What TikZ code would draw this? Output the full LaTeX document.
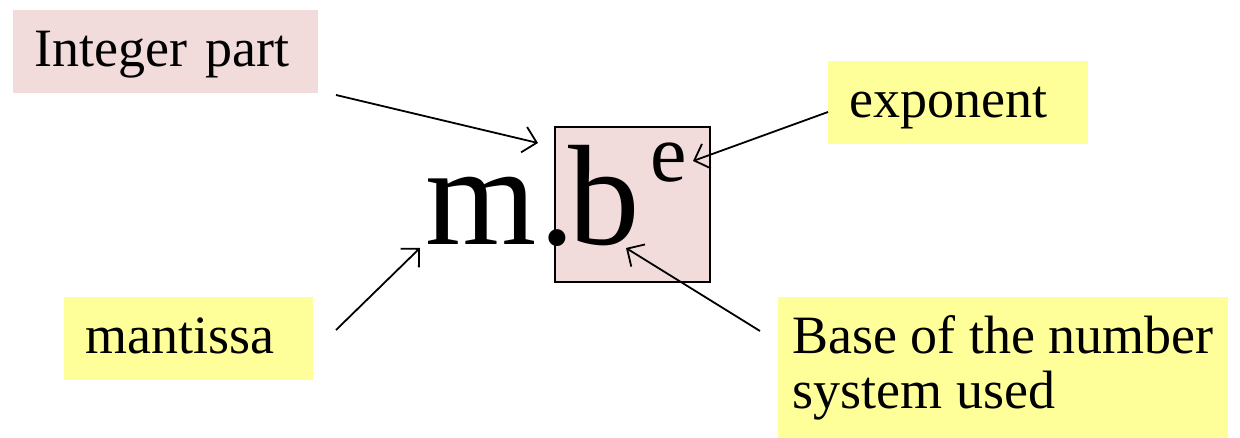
\documentclass[tikz,border=0pt]{standalone}
\usepackage{fontspec}
\setmainfont{Liberation Serif}
\usepackage{xcolor}
\usetikzlibrary{arrows.meta, positioning}

\definecolor{rosefill}{HTML}{F2DCDB}
\definecolor{lemonfill}{HTML}{FFFF99}

\begin{document}
\begin{tikzpicture}[
    x=1pt, y=-1pt,
    label/.style={rectangle, fill=#1, inner xsep=21pt, inner ysep=0pt, text height=57pt, text depth=26pt, align=left, anchor=base west, font=\fontsize{54}{55}\selectfont},
    label/.default={lemonfill},
    big/.style={inner sep=0pt, font=\fontsize{143}{143}\selectfont},
    arr/.style={line width=1.8pt, -{Straight Barb[length=13pt, width=26pt, line width=1.8pt]}},
]
    \useasboundingbox (0,0) rectangle (1240,438);

    % Boxed base
    \node[draw, line width=2.5pt, fill=rosefill, minimum size=155pt, inner sep=0pt] (basebox) at (632.5,204.5) {};

    % The number m.b^e
    \node[big, anchor=base west] (m) at (425,245) {m};
    \node[big, anchor=base] (dot) at (557,245) {.};
    \node[big, anchor=base west] (b) at (568,245) {b};
    \node[inner sep=0pt, anchor=base west, font=\fontsize{82}{82}\selectfont] (e) at (650,182) {e};

    % Labels
    \node[label=rosefill, text width=263pt] (intg) at (13,67) {Integer part};
    \node[label, text width=218pt] (expo) at (828,118) {exponent};
    \node[label, text width=207pt] (mant) at (64,354) {mantissa};
    \node[label, anchor=north west, minimum width=450pt, minimum height=141pt, inner xsep=12pt, text height=, text depth=] (base) at (778,297) {Base of the number\\system used};

    % Arrow ends
    \coordinate (intgS) at (336,95);
    \coordinate (intgT) at (538,143);
    \coordinate (expoS) at (828,112);
    \coordinate (expoT) at (693,161);
    \coordinate (mantS) at (336,330);
    \coordinate (mantT) at (420,248);
    \coordinate (baseS) at (760,331);
    \coordinate (baseT) at (626,248);

    \draw[arr] (intgS) -- (intgT);
    \draw[arr] (expoS) -- (expoT);
    \draw[arr] (mantS) -- (mantT);
    \draw[arr] (baseS) -- (baseT);
\end{tikzpicture}
\end{document}
